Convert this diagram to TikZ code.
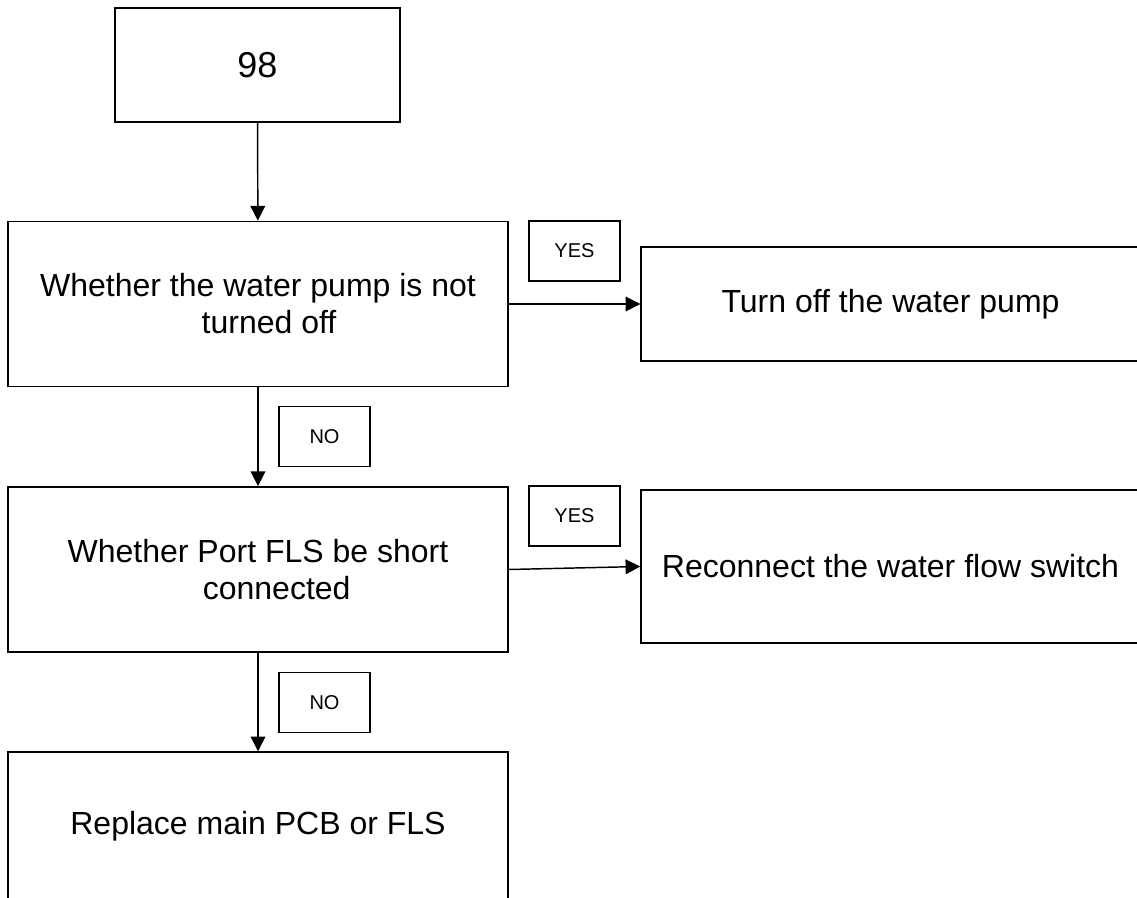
\documentclass[tikz,border=0pt]{standalone}
\usepackage{fontspec}
\setmainfont{Liberation Sans}
\usetikzlibrary{arrows.meta}

\begin{document}
\begin{tikzpicture}[x=0.75pt,y=-0.75pt,
  every node/.style={shape=rectangle, draw=black, line width=1.1pt, inner sep=0pt, align=center},
  stepbox/.style={minimum width=375pt, minimum height=124pt, font=\fontsize{24}{27.75}\selectfont},
  fixbox/.style={minimum width=374.25pt, font=\fontsize{24}{27.75}\selectfont},
  answer/.style={minimum width=68.25pt, minimum height=45pt, line width=0.9pt, font=\fontsize{15}{18}\selectfont},
  flow/.style={-{Triangle[length=11pt,width=11pt]}, line width=1.1pt}]
\clip (0,0) rectangle (1137,898);
\node [minimum width=213.75pt, minimum height=85.5pt, font=\fontsize{27}{32}\selectfont] (S) at (257.5,65) {98};
\node [stepbox] (Q1) at (258,304) {Whether the water pump is not\\\hspace*{16.5pt}turned off};
\node [stepbox] (Q2) at (258,569.5) {Whether Port FLS be short\\\hspace*{28pt}connected};
\node [stepbox, minimum height=111pt] (R) at (258,826) {Replace main PCB or FLS};
\node [fixbox, minimum height=85.5pt] (F1) at (890.5,304) {Turn off the water pump};
\node [fixbox, minimum height=114.75pt] (F2) at (890.5,566.5) {Reconnect the water flow switch};
\node [answer] (Y1) at (574.5,251) {YES};
\node [answer] (Y2) at (574.5,516) {YES};
\node [answer] (N1) at (324.5,436.5) {NO};
\node [answer] (N2) at (324.5,702.5) {NO};

\path [flow] (S) edge (Q1);
\path [flow] (Q1) edge (Q2);
\path [flow] (Q2) edge (R);
\path [flow] (Q1.east) edge (F1.west);
\path [flow] (Q2.east) edge (F2.west);
\end{tikzpicture}
\end{document}
